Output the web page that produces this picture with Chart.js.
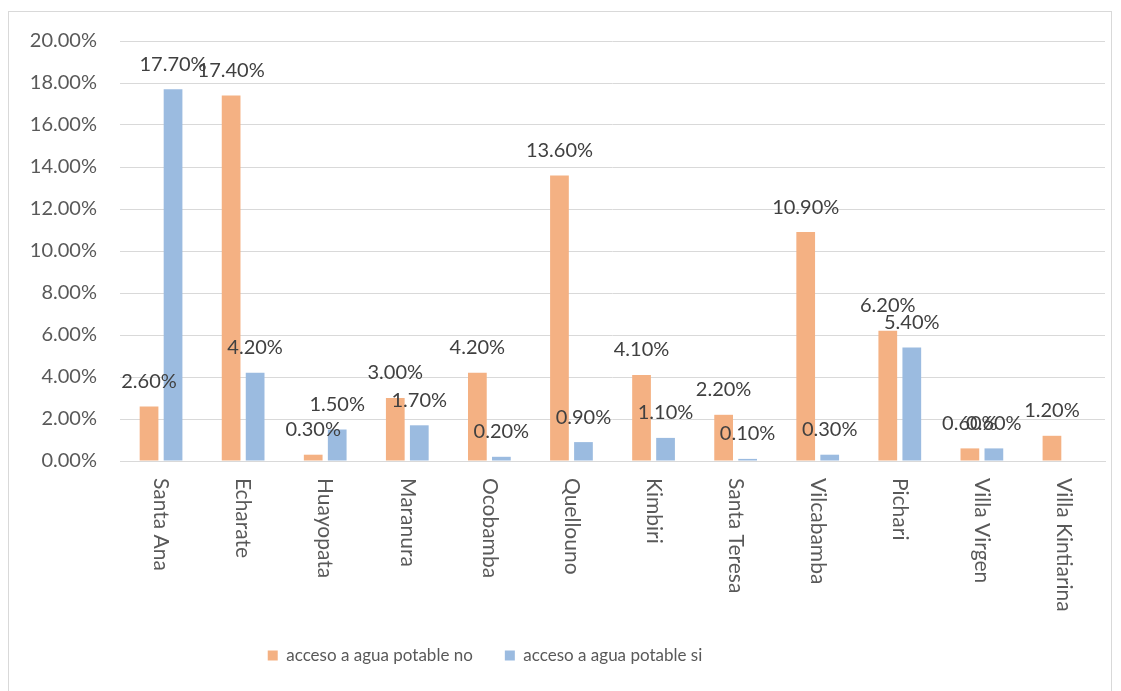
<!DOCTYPE html>
<html>
<head>
<meta charset="utf-8">
<script src="https://cdn.jsdelivr.net/npm/chart.js@4"></script>
<style>
  body { margin: 0; background: #fff; }
  #box { position: absolute; left: 8px; top: 11px; width: 1102px; height: 690px; border: 1px solid #d9d9d9; }
  canvas { display: block; }
</style>
</head>
<body>
<div id="box"><canvas id="myChart" width="1102" height="679"></canvas></div>
<script>
const labels = ['Santa Ana', 'Echarate', 'Huayopata', 'Maranura', 'Ocobamba', 'Quellouno',
  'Kimbiri', 'Santa Teresa', 'Vilcabamba', 'Pichari', 'Villa Virgen', 'Villa Kintiarina'];
const aguaNo = [2.6, 17.4, 0.3, 3.0, 4.2, 13.6, 4.1, 2.2, 10.9, 6.2, 0.6, 1.2];
const aguaSi = [17.7, 4.2, 1.5, 1.7, 0.2, 0.9, 1.1, 0.1, 0.3, 5.4, 0.6, null];
const yTicks = [0, 2, 4, 6, 8, 10, 12, 14, 16, 18, 20];

const FONT = 'Lato, "Open Sans", sans-serif';
const PLOT_BOTTOM = 449;

// value labels above each bar
const barLabels = {
  id: 'barLabels',
  afterDatasetsDraw(chart) {
    const ctx = chart.ctx;
    ctx.save();
    ctx.font = '20px ' + FONT;
    ctx.fillStyle = '#404040';
    ctx.textAlign = 'center';
    ctx.textBaseline = 'middle';
    chart.data.datasets.forEach((ds, i) => {
      chart.getDatasetMeta(i).data.forEach((bar, j) => {
        if (ds.data[j] == null) return;
        ctx.fillText(ds.data[j].toFixed(2) + '%', bar.x, bar.y - 25);
      });
    });
    ctx.restore();
  }
};

// category names, turned to read top to bottom
const catLabels = {
  id: 'catLabels',
  afterDraw(chart) {
    const ctx = chart.ctx;
    const xs = chart.scales.x;
    ctx.save();
    ctx.font = '21px ' + FONT;
    ctx.fillStyle = '#595959';
    ctx.textAlign = 'left';
    ctx.textBaseline = 'middle';
    labels.forEach((l, i) => {
      ctx.save();
      ctx.translate(xs.getPixelForValue(i), chart.chartArea.bottom + 17);
      ctx.rotate(Math.PI / 2);
      ctx.fillText(l, 0, 0);
      ctx.restore();
    });
    ctx.restore();
  }
};

// move the legend a bit left and down, like the original
const legendPos = {
  id: 'legendPos',
  beforeDraw(chart) {
    const lg = chart.legend;
    const dx = 476 - (lg.left + lg.right) / 2;
    const dy = 603 - lg.top;
    lg.left += dx; lg.right += dx;
    lg.top += dy; lg.bottom += dy;
  }
};

const data = {
  labels: labels,
  datasets: [{
    label: 'acceso a agua potable no',
    backgroundColor: '#F4B183',
    data: aguaNo
  }, {
    label: 'acceso a agua potable si',
    backgroundColor: '#9BBBE0',
    data: aguaSi
  }]
};

const config = {
  type: 'bar',
  data,
  options: {
    responsive: false,
    animation: false,
    categoryPercentage: 0.585,
    barPercentage: 0.78,
    layout: { padding: { top: 29, right: 6, bottom: 8, left: 0 } },
    scales: {
      x: {
        ticks: { display: false },
        grid: { display: false },
        border: { color: '#d9d9d9' },
        afterFit(s) { s.height = s.chart.height - PLOT_BOTTOM - s.chart.legend.height - 8; }
      },
      y: {
        min: 0,
        max: 20,
        afterBuildTicks(s) { s.ticks = yTicks.map(v => ({ value: v })); },
        afterFit(s) { s.width = 111; s.paddingTop = 0; s.paddingBottom = 0; },
        ticks: {
          padding: 23,
          color: '#595959',
          font: { family: FONT, size: 20 },
          callback: v => v.toFixed(2) + '%'
        },
        grid: { color: '#d9d9d9', drawTicks: false },
        border: { display: false }
      }
    },
    plugins: {
      legend: {
        position: 'bottom',
        labels: {
          boxWidth: 10,
          boxHeight: 10,
          padding: 32,
          color: '#595959',
          font: { family: FONT, size: 17 }
        }
      },
      tooltip: { enabled: false }
    }
  },
  plugins: [barLabels, catLabels, legendPos]
};

var myChart = new Chart(document.getElementById('myChart'), config);
</script>
</body>
</html>
